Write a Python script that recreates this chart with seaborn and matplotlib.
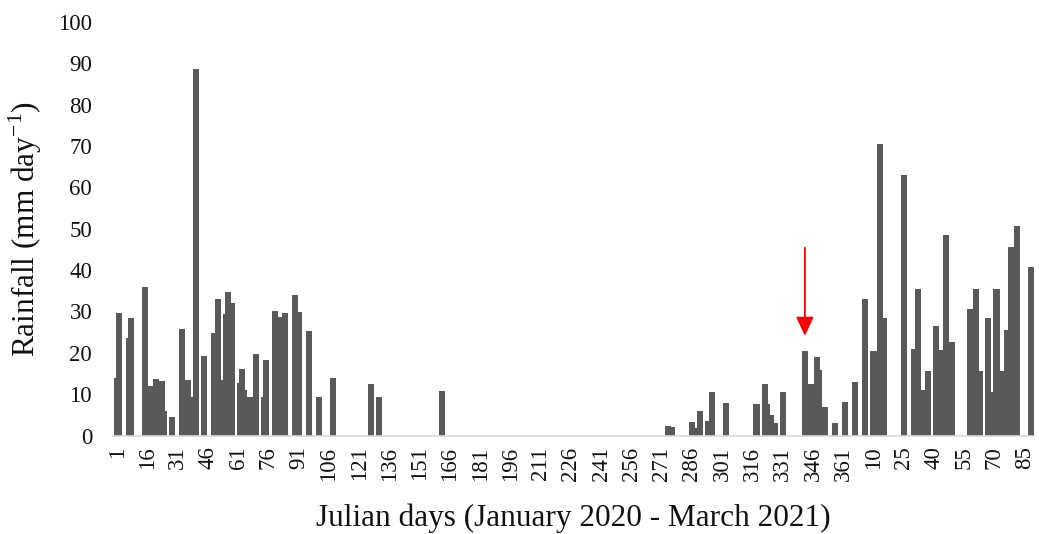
import matplotlib
matplotlib.use("Agg")
import matplotlib.pyplot as plt
import numpy as np
import pandas as pd
import seaborn as sns

# Rainy days in 2020 (Julian day) and rainfall (mm/day)
days_2020 = [1, 2, 7, 8, 15, 17, 20, 23, 24, 28,
             33, 36, 38, 40, 44, 49, 51, 53, 55, 56,
             58, 62, 63, 64, 67, 70, 74, 75, 79, 82,
             84, 89, 91, 96, 101, 108, 127, 131, 162, 274,
             276, 286, 288, 290, 294, 296, 303, 318, 322, 323,
             325, 327, 331, 342, 345, 348, 349, 352, 357, 362]
rain_2020 = [14.0, 29.6, 23.7, 28.3, 35.8, 11.9, 13.7, 13.1, 6.0, 4.5,
             25.8, 13.4, 9.4, 88.7, 19.3, 24.9, 33.0, 13.4, 29.3, 34.8,
             32.0, 12.8, 16.2, 11.1, 9.4, 19.7, 9.4, 18.2, 30.2, 28.6,
             29.6, 33.9, 29.9, 25.2, 9.4, 13.8, 12.5, 9.4, 10.8, 2.2,
             2.1, 3.2, 1.9, 6.0, 3.5, 10.4, 7.8, 7.5, 12.5, 7.5,
             5.0, 3.1, 10.6, 20.5, 12.5, 18.9, 15.9, 6.8, 3.1, 8.1]

# Rainy days in 2021 (Julian day) and rainfall (mm/day)
days_2021 = [1, 6, 10, 13, 15, 25, 30, 32, 35, 37,
             41, 43, 46, 49, 58, 61, 63, 67, 68, 71,
             73, 76, 78, 81, 88]
rain_2021 = [13.0, 33.0, 20.5, 70.5, 28.5, 63.1, 21.0, 35.4, 11.0, 15.6,
             26.4, 20.7, 48.5, 22.7, 30.6, 35.4, 15.7, 28.5, 10.6, 35.4,
             15.7, 25.5, 45.7, 50.6, 40.7]

n_2020 = 366   # leap year
n_2021 = 90    # Jan - Mar 2021
tick_step = 15

# Build the daily series
pos = np.arange(n_2020 + n_2021)
rain = np.zeros(len(pos))
for d, r in zip(days_2020, rain_2020):
    rain[d - 1] = r
for d, r in zip(days_2021, rain_2021):
    rain[n_2020 + d - 1] = r
df = pd.DataFrame({"pos": pos, "rain": rain})

tick_pos = list(range(0, len(pos), tick_step))
tick_labels = [str(p + 1) if p < n_2020 else str(p - n_2020 + 1) for p in tick_pos]

sns.set_theme(style="white")
plt.rcParams["font.family"] = ["Liberation Serif", "DejaVu Serif"]

W, H = 1039, 534
fig = plt.figure(figsize=(W / 100, H / 100), dpi=100)
ax = fig.add_axes([113 / W, 1 - 435.5 / H, 921 / W, (435.5 - 22) / H])

sns.barplot(data=df, x="pos", y="rain", native_scale=True, width=3.0,
            color="#595959", saturation=1, linewidth=0, errorbar=None, ax=ax)

ax.set_xlim(-2.1, 454.6)
ax.set_ylim(0, 100)
ax.set_yticks(np.arange(0, 101, 10))
ax.set_xticks(tick_pos)
ax.set_xticklabels(tick_labels, rotation=90)
ax.tick_params(axis="both", length=0, labelsize=16.5, colors="#111111")
ax.tick_params(axis="y", pad=15)
ax.tick_params(axis="x", pad=8)

for s in ["left", "top", "right"]:
    ax.spines[s].set_visible(False)
ax.spines["bottom"].set_color("#d9d9d9")
ax.spines["bottom"].set_linewidth(1.2)

ax.set_xlabel("Julian days (January 2020 - March 2021)", fontsize=22.5,
              labelpad=16, color="#111111")
ax.set_ylabel(r"Rainfall (mm day$^{\mathregular{-1}}$)", fontsize=22.5,
              labelpad=10, color="#111111")

ax.annotate("", xy=(341, 24.1), xytext=(341, 45.4),
            arrowprops=dict(arrowstyle="-|>,head_length=0.58,head_width=0.27",
                            color="red", lw=1.3, mutation_scale=20,
                            shrinkA=0, shrinkB=0))

fig.savefig("out.png", dpi=100)
